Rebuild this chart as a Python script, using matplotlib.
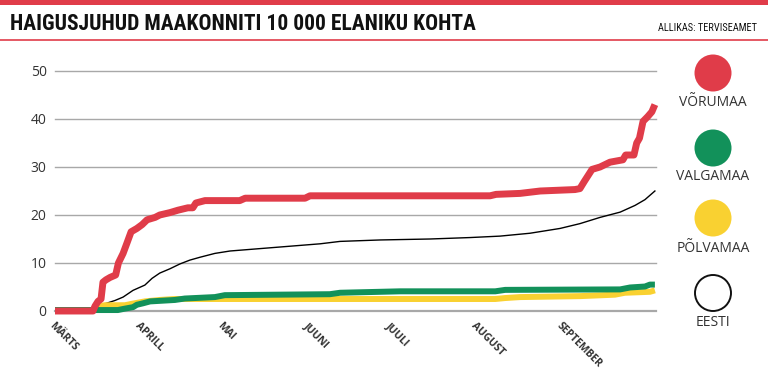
import matplotlib
matplotlib.use("Agg")
import matplotlib.pyplot as plt
from matplotlib.patches import Circle, Rectangle
from matplotlib.lines import Line2D
from matplotlib import font_manager

# days counted from 1 March
month_days = [0, 31, 61, 92, 122, 153, 184]
month_labels = ["MÄRTS", "APRILL", "MAI", "JUUNI", "JUULI", "AUGUST", "SEPTEMBER"]
y_ticks = [0, 10, 20, 30, 40, 50]

voru_day = [0, 13.8, 14.5, 15.6, 16.7, 17.4, 18.5, 20, 22, 23, 24.7, 26, 27.6, 29.7, 31.6,
            33.4, 36.3, 38, 41.7, 44.6, 48.2, 50, 51.1, 54.4, 67, 69, 90.7, 92.5, 157.8,
            160, 168.7, 176, 188.6, 190.4, 192, 194.8, 197.7, 199.5, 201.3, 206, 207, 210,
            211, 212, 213.3, 215, 216.5, 217.6]
voru_val = [0, 0, 1, 2, 2.5, 6, 6.5, 7, 7.5, 10, 12, 14, 16.5, 17.2, 18, 19, 19.5, 20, 20.5,
            21, 21.5, 21.5, 22.5, 23, 23, 23.5, 23.5, 24, 24, 24.3, 24.5, 25, 25.3, 25.5, 27,
            29.5, 30, 30.5, 31, 31.5, 32.5, 32.5, 35, 36, 39.5, 40.5, 41.5, 43]

eesti_day = [13.8, 15.2, 18.1, 21.8, 24.7, 28.3, 32.6, 35.2, 38, 41.7, 45.3, 48.9, 52.6, 58,
             63.5, 74.4, 85.3, 96.2, 103.4, 118, 136, 150.5, 161.4, 172.3, 183.2, 190.4,
             197.7, 205, 210.4, 214, 217.6]
eesti_val = [0, 0.8, 1.5, 2.2, 2.9, 4.3, 5.4, 6.8, 7.9, 8.8, 9.8, 10.6, 11.2, 12, 12.5, 13,
             13.5, 14, 14.5, 14.8, 15, 15.3, 15.6, 16.2, 17.2, 18.2, 19.5, 20.6, 22, 23.2, 25]

valga_day = [0, 22.8, 25.4, 28.3, 29.7, 31.9, 34.5, 43.5, 47.1, 58, 61.6, 99.7, 103.4, 117.9,
             125.2, 159.7, 163.3, 205, 208.6, 214, 215.8, 217.6]
valga_val = [0.2, 0.2, 0.5, 0.8, 1.3, 1.6, 2.0, 2.3, 2.6, 2.9, 3.3, 3.5, 3.8, 4.0, 4.1, 4.1,
             4.4, 4.5, 4.9, 5.1, 5.5, 5.5]

polva_day = [0, 13.4, 15.2, 18.1, 25.4, 27.9, 32.6, 38, 43.5, 159.7, 163.3, 168.7, 190.4,
             203.1, 206.7, 215.8, 217.6]
polva_val = [0.2, 0.2, 0.9, 1.2, 1.2, 1.5, 2.0, 2.3, 2.5, 2.5, 2.7, 2.9, 3.1, 3.4, 3.8, 4.0, 4.3]

RED = "#e03c49"
GREEN = "#12915a"
YELLOW = "#f9d131"
TEXT = "#333333"
GRID = "#a8a8a8"

# pick a narrow face for the header if one is around
names = {f.name for f in font_manager.fontManager.ttflist}
narrow = [n for n in ["Liberation Sans Narrow", "DejaVu Sans Condensed", "Roboto Condensed"]
          if n in names]
head_family = narrow + ["DejaVu Sans"]

W, H = 768, 384
fig = plt.figure(figsize=(W / 100, H / 100), dpi=100)
fig.patch.set_facecolor("white")

# header
fig.patches.append(Rectangle((0, 1 - 5 / H), 1, 5 / H, transform=fig.transFigure,
                             facecolor=RED, edgecolor="none"))
fig.add_artist(Line2D([0, 1], [1 - 40 / H, 1 - 40 / H], transform=fig.transFigure,
                      color=RED, linewidth=1.2))
title = fig.text(10 / W, 1 - 24 / H, "HAIGUSJUHUD MAAKONNITI 10 000 ELANIKU KOHTA",
                 family=head_family, fontweight="bold", fontstretch="condensed",
                 fontsize=15.5, color="#111111", va="center", ha="left")
src = fig.text(757 / W, 1 - 28 / H, "ALLIKAS: TERVISEAMET",
               family=head_family, fontstretch="condensed", fontsize=7.5,
               color="#111111", va="center", ha="right")

# shrink header texts to the widths seen in the original
fig.canvas.draw()
r = fig.canvas.get_renderer()
tw = title.get_window_extent(r).width
if tw > 497:
    title.set_fontsize(15.5 * 497 / tw)
sw = src.get_window_extent(r).width
if sw > 117:
    src.set_fontsize(7.5 * 117 / sw)

# main chart
x0, x1 = 55, 656
ytop, ybot = 71, 311
ax = fig.add_axes([x0 / W, 1 - ybot / H, (x1 - x0) / W, (ybot - ytop) / H])
ax.set_xlim(0, 218)
ax.set_ylim(0, 50)
for s in ax.spines.values():
    s.set_visible(False)
for v in y_ticks:
    ax.axhline(v, color=GRID, linewidth=1.6 if v == 0 else 1.0, zorder=1, clip_on=False)

ax.plot(eesti_day, eesti_val, color="black", linewidth=1.0, zorder=2, clip_on=False)
ax.plot(polva_day, polva_val, color=YELLOW, linewidth=4.3, zorder=3, clip_on=False,
        solid_capstyle="butt")
ax.plot(valga_day, valga_val, color=GREEN, linewidth=4.3, zorder=4, clip_on=False,
        solid_capstyle="butt")
ax.plot(voru_day, voru_val, color=RED, linewidth=5.0, zorder=5, clip_on=False,
        solid_capstyle="butt")

ax.set_yticks(y_ticks)
ax.set_yticklabels([str(v) for v in y_ticks], fontsize=10, color=TEXT,
                   family=["Open Sans", "DejaVu Sans"])
ax.tick_params(axis="y", length=0, pad=6)
ax.set_xticks(month_days)
ax.set_xticklabels(month_labels, rotation=-45, ha="left", va="top",
                   rotation_mode="anchor", fontsize=7.5, fontweight="bold", color=TEXT,
                   family=["Open Sans", "DejaVu Sans"])
ax.tick_params(axis="x", length=0, pad=7)

# legend column
lax = fig.add_axes([672 / W, 0, (W - 672) / W, 1 - 42 / H])
lax.set_xlim(672, W)
lax.set_ylim(H, 42)
lax.axis("off")
legend_items = [("VÕRUMAA", RED, 73, 103), ("VALGAMAA", GREEN, 148, 177),
                ("PÕLVAMAA", YELLOW, 218, 248), ("EESTI", None, 293, 323)]
for name, col, cy, ty in legend_items:
    if col is None:
        lax.add_patch(Circle((713, cy), 18, facecolor="white", edgecolor="#111111",
                             linewidth=1.4))
    else:
        lax.add_patch(Circle((713, cy), 18.5, facecolor=col, edgecolor="none"))
    lax.text(713, ty, name, ha="center", va="center", fontsize=10, color=TEXT,
             family=["Open Sans", "DejaVu Sans"])

fig.savefig("out.png", dpi=100)
